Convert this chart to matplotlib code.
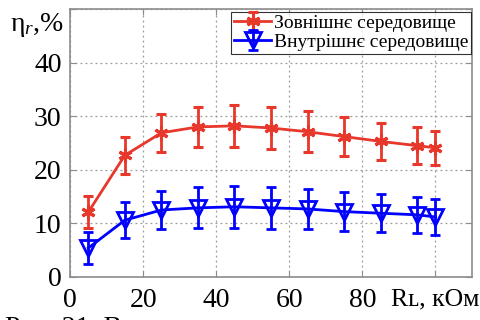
import matplotlib

matplotlib.use("Agg")

import matplotlib.pyplot as plt  # noqa: E402

# load resistance, kOhm
R_LOAD = [5, 15, 25, 35, 45, 55, 65, 75, 85, 95, 100]

# outer environment
EFF_OUTER = [12.1, 22.7, 26.9, 28.0, 28.2, 27.8, 27.1, 26.2, 25.3, 24.5, 24.1]
ERR_OUTER = [3.0, 3.4, 3.6, 3.8, 3.9, 4.0, 3.8, 3.6, 3.5, 3.4, 3.2]

# inner environment
EFF_INNER = [5.4, 10.6, 12.5, 12.9, 13.1, 12.9, 12.7, 12.2, 11.9, 11.6, 11.2]
ERR_INNER = [3.0, 3.4, 3.6, 3.8, 3.9, 3.9, 3.7, 3.6, 3.5, 3.3, 3.3]

SERIES_LABELS = ["Зовнішнє середовище", "Внутрішнє середовище"]
X_TICKS = [0, 20, 40, 60, 80, 100]
X_TICK_LABELS = ["0", "20", "40", "60", "80", "Rʟ, кОм"]
Y_TICKS = [0, 10, 20, 30, 40, 50]
Y_TICK_LABELS = ["0", "10", "20", "30", "40", ""]

RED = "#e8372b"
BLUE = "#0000ff"
SPINE = "#8c8c8c"

plt.rcParams["font.family"] = ["Liberation Serif", "DejaVu Serif"]
plt.rcParams["mathtext.fontset"] = "custom"
plt.rcParams["mathtext.rm"] = "Liberation Serif"
plt.rcParams["mathtext.it"] = "Liberation Serif:italic"

fig = plt.figure(figsize=(4.8, 3.2), dpi=100)
ax = fig.add_axes([70 / 480, 43 / 320, 402 / 480, 268 / 320])

ax.errorbar(
    R_LOAD, EFF_OUTER, yerr=ERR_OUTER,
    color=RED, linewidth=2.0, elinewidth=2.0, capsize=3.5, capthick=2.0,
    marker=(6, 2, 0), markersize=10, markeredgewidth=2.2,
    label=SERIES_LABELS[0], zorder=3,
)
ax.errorbar(
    R_LOAD, EFF_INNER, yerr=ERR_INNER,
    color=BLUE, linewidth=2.0, elinewidth=2.0, capsize=3.5, capthick=2.0,
    marker="v", markersize=11, markeredgewidth=2.0, markerfacecolor="none",
    label=SERIES_LABELS[1], zorder=3,
)

ax.set_xlim(0, 110)
ax.set_ylim(0, 50)
ax.set_xticks(X_TICKS)
ax.set_xticklabels(X_TICK_LABELS)
ax.set_yticks(Y_TICKS)
ax.set_yticklabels(Y_TICK_LABELS)
ax.tick_params(direction="in", length=4, color=SPINE, labelsize=20,
               top=True, right=True, pad=6)
ax.tick_params(axis="x", pad=8)
ax.get_xticklabels()[-1].set_fontsize(18.5)
ax.grid(True, linestyle=(0, (1.5, 2.5)), color="#9a9a9a", linewidth=0.9)
for spine in ax.spines.values():
    spine.set_color(SPINE)
    spine.set_linewidth(1.2)

fig.text(10 / 480, 1 - 25 / 320, "η$_r$,%", fontsize=20, va="center", ha="left")
# figure caption, mostly cut off by the bottom edge as in the source scan
fig.text(5 / 480, 4 / 320, "Рис. 21. В", fontsize=20, va="top", ha="left")

leg = ax.legend(
    loc="upper right", bbox_to_anchor=(0.998, 0.99), borderaxespad=0.0,
    fontsize=14, frameon=True, fancybox=False, handlelength=1.9,
    handletextpad=0.15, labelspacing=0.05, borderpad=0.15,
)
leg.get_frame().set_edgecolor("#000000")
leg.get_frame().set_linewidth(0.8)

fig.savefig("out.png", dpi=100)
